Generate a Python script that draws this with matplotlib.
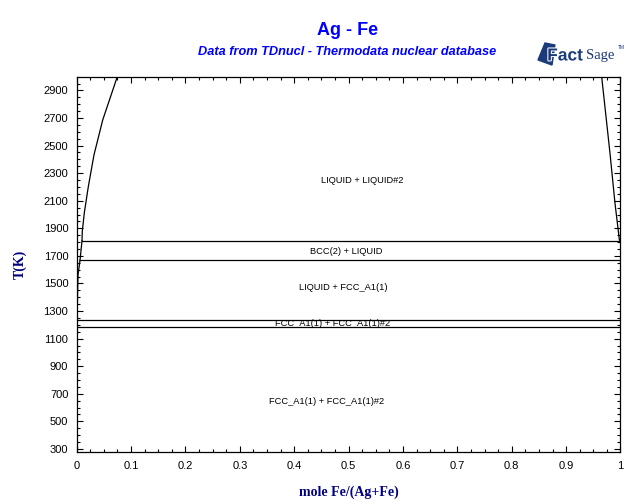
import matplotlib
matplotlib.use('Agg')
import matplotlib.pyplot as plt
from matplotlib.ticker import MultipleLocator
from matplotlib.patches import Polygon
import matplotlib.patheffects as pe

plt.rcParams['font.family'] = ['Liberation Sans', 'DejaVu Sans']

# phase boundaries (x = mole Fe/(Ag+Fe), T in K)
liqLeftX = [0.0098, 0.0103, 0.0140, 0.0214, 0.0318, 0.0479, 0.0747]
liqLeftT = [1809, 1876, 2011, 2202, 2432, 2686, 3000]
liqRightX = [1.0, 0.998, 0.9899, 0.9807, 0.9654]
liqRightT = [1809, 1815, 2082, 2445, 3000]
bccLeftX = [0.0098, 0.0061]
bccLeftT = [1809, 1667]
fccLeftX = [0.0061, 0.0024, 0.0015, 0.0010]
fccLeftT = [1667, 1560, 1400, 1235]

# invariant lines: temperature, start x, end x
invT = [1809, 1667, 1235, 1185]
invX0 = [0.0098, 0.0061, 0.0010, 0.0]
invX1 = [1.0, 1.0, 1.0, 1.0]

regionNames = ['LIQUID + LIQUID#2', 'BCC(2) + LIQUID', 'LIQUID + FCC_A1(1)',
               'FCC_A1(1) + FCC_A1(1)#2', 'FCC_A1(1) + FCC_A1(1)#2']
regionX = [0.525, 0.495, 0.49, 0.47, 0.46]
regionT = [2246, 1733, 1473, 1210, 643]

fig = plt.figure(figsize=(6.4, 5.04), dpi=100)
ax = fig.add_axes([0.1198, 0.1038, 0.8497, 0.7441])

lw = 0.9
ax.plot(liqLeftX, liqLeftT, color='black', lw=lw)
ax.plot(liqRightX, liqRightT, color='black', lw=lw)
ax.plot(bccLeftX, bccLeftT, color='black', lw=lw)
ax.plot(fccLeftX, fccLeftT, color='black', lw=lw)
for t, a, b in zip(invT, invX0, invX1):
	ax.plot([a, b], [t, t], color='black', lw=lw)

for name, x, t in zip(regionNames, regionX, regionT):
	ax.text(x, t, name, fontsize=6.7, ha='center', va='center', color='black')

ax.set_xlim(0, 1)
ax.set_ylim(280, 3000)
ax.xaxis.set_minor_locator(MultipleLocator(0.025))
ax.yaxis.set_minor_locator(MultipleLocator(50))
ax.set_xticks([i / 10 for i in range(11)])
ax.set_xticklabels(['0'] + ['%.1f' % (i / 10) for i in range(1, 10)] + ['1'])
ax.set_yticks(list(range(300, 3000, 200)))
ax.tick_params(which='both', direction='in', top=True, right=True, labelsize=8, width=0.8)
ax.tick_params(which='major', length=4.5)
ax.tick_params(which='minor', length=2.5)
ax.tick_params(axis='x', pad=7)
ax.tick_params(axis='y', pad=6)
for s in ax.spines.values():
	s.set_linewidth(0.9)

ax.set_xlabel('mole Fe/(Ag+Fe)', family='Liberation Serif', fontweight='bold',
              fontsize=10, color='#000080', labelpad=10)
ax.set_ylabel('T(K)', family='Liberation Serif', fontweight='bold',
              fontsize=10, color='#000080', labelpad=12)

fig.text(0.543, 0.94, 'Ag - Fe', fontsize=13, fontweight='bold', color='#0000ff',
         ha='center', va='center')
fig.text(0.543, 0.896, 'Data from TDnucl - Thermodata nuclear database', fontsize=9.2,
         fontweight='bold', style='italic', color='#0000ff', ha='center', va='center')

# FactSage logo (rough)
navy = '#1a3a7a'
logo = Polygon([[0.8516, 0.9147], [0.867, 0.9107], [0.8625, 0.871], [0.8406, 0.881]],
               closed=True, transform=fig.transFigure, color=navy)
fig.patches.append(logo)
fig.text(0.855, 0.889, 'Fact', fontsize=12.5, fontweight='heavy', color=navy,
         ha='left', va='center',
         path_effects=[pe.withStroke(linewidth=1.5, foreground='white')])
fig.text(0.916, 0.889, 'Sage', fontsize=10.5, family='Liberation Serif', color=navy,
         ha='left', va='center')
fig.text(0.965, 0.906, 'TM', fontsize=3.5, color=navy, ha='left', va='center')

fig.savefig('out.png', dpi=100)
